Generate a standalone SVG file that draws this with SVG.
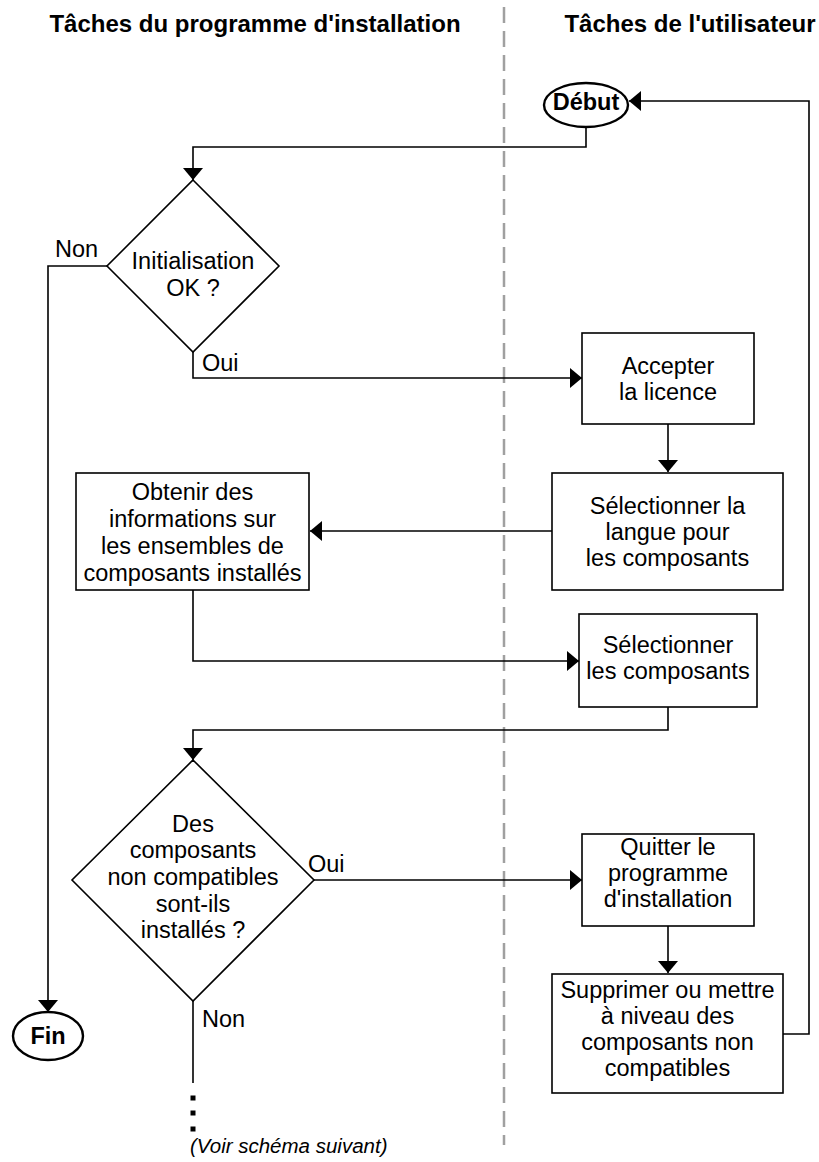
<svg xmlns="http://www.w3.org/2000/svg" width="819" height="1162" viewBox="0 0 819 1162">
<style>
text{font-family:"Liberation Sans",Arial,Helvetica,sans-serif;fill:#000}
.t{font-size:23.5px;text-anchor:middle}
.lbl{font-size:23.5px}
.h{font-size:24px;font-weight:bold;text-anchor:middle}
.b{font-size:23.5px;font-weight:bold;text-anchor:middle}
.shape{fill:#fff;stroke:#000;stroke-width:1.6}
.term{fill:#fff;stroke:#000;stroke-width:2.4}
.c{fill:none;stroke:#000;stroke-width:1.6}
.it{font-size:20.5px;font-style:italic}
</style>
<defs>
<marker id="ah" markerUnits="userSpaceOnUse" markerWidth="13" markerHeight="20" refX="12" refY="10" orient="auto" viewBox="0 0 13 20">
<path d="M0,0 L12,10 L0,20 z" fill="#000"/>
</marker>
</defs>
<rect width="819" height="1162" fill="#fff"/>
<g id="lanes">
<line x1="504" y1="7" x2="504" y2="1145" stroke="#a0a0a0" stroke-width="2.5" stroke-dasharray="16 8"/>
<text class="h" x="255" y="32">Tâches du programme d'installation</text>
<text class="h" x="690" y="32">Tâches de l'utilisateur</text>
</g>
<g id="connectors">
<path class="c" d="M586,128 V147 H193 V180" marker-end="url(#ah)"/>
<path class="c" d="M107,266 H48 V1012" marker-end="url(#ah)"/>
<path class="c" d="M193,351 V378 H582" marker-end="url(#ah)"/>
<path class="c" d="M668,424 V472" marker-end="url(#ah)"/>
<path class="c" d="M552,531 H310" marker-end="url(#ah)"/>
<path class="c" d="M193,590 V661 H579" marker-end="url(#ah)"/>
<path class="c" d="M668,707 V730 H193 V760" marker-end="url(#ah)"/>
<path class="c" d="M313,880 H582" marker-end="url(#ah)"/>
<path class="c" d="M668,926 V973" marker-end="url(#ah)"/>
<path class="c" d="M783,1034 H809 V101 H629" marker-end="url(#ah)"/>
<path class="c" d="M193,1001 V1083"/>
<rect x="190.5" y="1095.5" width="5" height="5" fill="#000"/>
<rect x="190.5" y="1110.5" width="5" height="5" fill="#000"/>
<rect x="190.5" y="1126.5" width="5" height="5" fill="#000"/>
<text class="lbl" x="55" y="257">Non</text>
<text class="lbl" x="202" y="371">Oui</text>
<text class="lbl" x="308" y="872">Oui</text>
<text class="lbl" x="202" y="1027">Non</text>
<text class="it" x="190" y="1153">(Voir schéma suivant)</text>
</g>
<g id="debut">
<ellipse class="term" cx="586" cy="105" rx="42" ry="22"/>
<text class="b" x="586" y="110">Début</text>
</g>
<g id="init-ok">
<polygon class="shape" points="193,180 279,266 193,352 107,266"/>
<text class="t" x="193" y="269">Initialisation</text>
<text class="t" x="193" y="296">OK ?</text>
</g>
<g id="accepter-licence">
<rect class="shape" x="582" y="333" width="172" height="91"/>
<text class="t" x="668" y="374">Accepter</text>
<text class="t" x="668" y="400">la licence</text>
</g>
<g id="selectionner-langue">
<rect class="shape" x="552" y="473" width="231" height="117"/>
<text class="t" x="667.5" y="514">Sélectionner la</text>
<text class="t" x="667.5" y="540">langue pour</text>
<text class="t" x="667.5" y="566">les composants</text>
</g>
<g id="obtenir-informations">
<rect class="shape" x="76" y="473" width="233" height="117"/>
<text class="t" x="192.5" y="500">Obtenir des</text>
<text class="t" x="192.5" y="527">informations sur</text>
<text class="t" x="192.5" y="554">les ensembles de</text>
<text class="t" x="192.5" y="581">composants installés</text>
</g>
<g id="selectionner-composants">
<rect class="shape" x="579" y="614" width="178" height="93"/>
<text class="t" x="668" y="653">Sélectionner</text>
<text class="t" x="668" y="679">les composants</text>
</g>
<g id="composants-non-compatibles">
<polygon class="shape" points="193,760 314,880 193,1001 72,880"/>
<text class="t" x="193" y="832">Des</text>
<text class="t" x="193" y="858">composants</text>
<text class="t" x="193" y="885">non compatibles</text>
<text class="t" x="193" y="912">sont-ils</text>
<text class="t" x="193" y="938">installés ?</text>
</g>
<g id="quitter">
<rect class="shape" x="582" y="834" width="172" height="92"/>
<text class="t" x="668" y="855">Quitter le</text>
<text class="t" x="668" y="881">programme</text>
<text class="t" x="668" y="907">d'installation</text>
</g>
<g id="supprimer">
<rect class="shape" x="552" y="974" width="231" height="119"/>
<text class="t" x="667.5" y="998">Supprimer ou mettre</text>
<text class="t" x="667.5" y="1024">à niveau des</text>
<text class="t" x="667.5" y="1050">composants non</text>
<text class="t" x="667.5" y="1076">compatibles</text>
</g>
<g id="fin">
<ellipse class="term" cx="48" cy="1036" rx="35" ry="24"/>
<text class="b" x="48" y="1044">Fin</text>
</g>
</svg>
